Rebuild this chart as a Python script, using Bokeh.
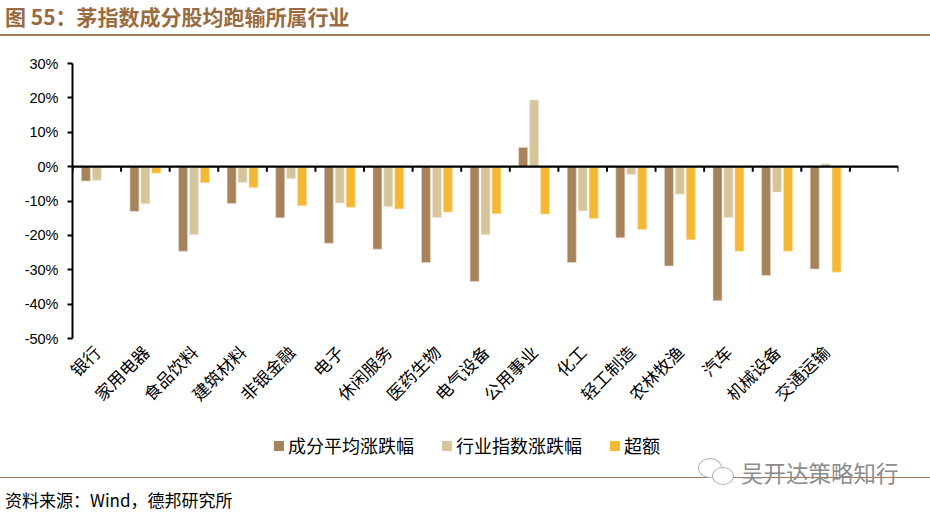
from math import pi

from bokeh.embed import file_html
from bokeh.layouts import column
from bokeh.models import (ColumnDataSource, Div, FactorRange, FixedTicker,
                          PrintfTickFormatter, Range1d, Span)
from bokeh.plotting import figure
from bokeh.resources import INLINE
from bokeh.transform import dodge

# ---- data (in %) ----
industries = ["银行", "家用电器", "食品饮料", "建筑材料", "非银金融", "电子", "休闲服务",
              "医药生物", "电气设备", "公用事业", "化工", "轻工制造", "农林牧渔", "汽车",
              "机械设备", "交通运输"]
avg_change = [-4.2, -13.0, -24.6, -10.7, -14.9, -22.3, -24.0, -27.9, -33.4, 5.6,
              -27.9, -20.7, -28.9, -39.0, -31.7, -29.8]
index_change = [-4.0, -10.8, -19.8, -4.6, -3.5, -10.6, -11.7, -14.8, -19.8, 19.4,
                -12.9, -2.3, -8.0, -14.8, -7.4, 0.8]
excess = [-0.2, -1.9, -4.7, -6.1, -11.4, -11.8, -12.3, -13.2, -13.7, -13.8,
          -15.1, -18.3, -21.3, -24.6, -24.6, -30.7]
series_names = ["成分平均涨跌幅", "行业指数涨跌幅", "超额"]
y_ticks = [-50, -40, -30, -20, -10, 0, 10, 20, 30]

BROWN = "#A6835A"
TAN = "#D6C59B"
YELLOW = "#F5B834"
LINE = "#A57A56"
CJK = "Noto Sans CJK SC"
colors = [BROWN, TAN, YELLOW]

factors = industries + [" "]   # empty slot at the right end

source = ColumnDataSource(dict(cat=industries, a=avg_change, b=index_change, c=excess))
edges = ColumnDataSource(dict(cat=factors))

# ---- main chart ----
p = figure(width=930, height=392, x_range=FactorRange(*factors),
           y_range=Range1d(-50, 30), output_backend="svg", toolbar_location=None,
           min_border_left=72, min_border_right=32, min_border_top=27,
           min_border_bottom=90)
p.outline_line_color = None
p.xgrid.visible = False
p.ygrid.visible = False

bw = 0.185
p.vbar(x=dodge("cat", -0.225, range=p.x_range), top="a", bottom=0, width=bw,
       source=source, fill_color=BROWN, line_color="#E8DCCB", line_width=0.6)
p.vbar(x=dodge("cat", 0.0, range=p.x_range), top="b", bottom=0, width=bw,
       source=source, fill_color=TAN, line_color="#F1EADB", line_width=0.6)
p.vbar(x=dodge("cat", 0.225, range=p.x_range), top="c", bottom=0, width=bw,
       source=source, fill_color=YELLOW, line_color="#FBE3B0", line_width=0.6)

# zero line with boundary ticks
p.add_layout(Span(location=0, dimension="width", line_color="black", line_width=2.2))
p.segment(x0=dodge("cat", -0.5, range=p.x_range), y0=0,
          x1=dodge("cat", -0.5, range=p.x_range), y1=-1.5,
          source=edges, line_color="black", line_width=2)
p.segment(x0=dodge("cat", 0.5, range=p.x_range), y0=0,
          x1=dodge("cat", 0.5, range=p.x_range), y1=-1.5,
          source=ColumnDataSource(dict(cat=[factors[-1]])), line_color="black", line_width=2)

# y axis
p.yaxis.ticker = FixedTicker(ticks=y_ticks)
p.yaxis.formatter = PrintfTickFormatter(format="%d%%")
p.yaxis.axis_line_width = 2
p.yaxis.major_tick_line_width = 2
p.yaxis.major_tick_in = 0
p.yaxis.major_tick_out = 5
p.yaxis.minor_tick_line_color = None
p.yaxis.major_label_standoff = 9
p.yaxis.major_label_text_font = "Liberation Sans"
p.yaxis.major_label_text_font_size = "14.5px"
p.yaxis.major_label_text_color = "black"

# x axis: labels only
p.xaxis.axis_line_color = None
p.xaxis.major_tick_line_color = None
p.xaxis.minor_tick_line_color = None
p.xaxis.major_label_orientation = pi / 4
p.xaxis.major_label_standoff = 4
p.xaxis.major_label_text_font = CJK
p.xaxis.major_label_text_font_size = "17px"
p.xaxis.major_label_text_color = "black"

# ---- legend strip (html, so the colour keys come out as real squares) ----
key_left = [274, 442, 610]
legend_html = '<div style="position:relative;width:930px;height:30px;">'
for name, c, left in zip(series_names, colors, key_left):
    legend_html += ('<div style="position:absolute;left:%dpx;top:13px;width:10px;height:10px;'
                    'background:%s;"></div>' % (left, c))
    legend_html += ('<div style="position:absolute;left:%dpx;top:4px;font-size:18px;'
                    'line-height:26px;color:black;white-space:nowrap;">%s</div>'
                    % (left + 14, name))
legend_html += '</div>'
legend = Div(text=legend_html, width=930, height=30, margin=0,
             styles={"font-family": CJK, "overflow": "visible"})

title = Div(text="图 55：茅指数成分股均跑输所属行业", width=930, height=36, margin=0,
            styles={"font-family": CJK, "font-size": "21px", "font-weight": "bold",
                    "color": "#9A6B40", "line-height": "33px", "box-sizing": "border-box",
                    "border-bottom": "2.5px solid " + LINE, "padding-left": "5px",
                    "overflow": "visible"})

footer_html = (
    '<div style="position:relative;width:930px;height:55px;">'
    '<div style="position:absolute;left:0;top:19px;width:930px;height:0;'
    'border-top:1.6px solid ' + LINE + ';"></div>'
    '<div style="position:absolute;left:698px;top:0px;width:24px;height:20px;'
    'border:1.5px solid #b5b5b5;border-radius:50%;background:white;"></div>'
    '<div style="position:absolute;left:712px;top:9px;width:22px;height:18px;'
    'border:1.5px solid #b5b5b5;border-radius:50%;background:white;"></div>'
    '<div style="position:absolute;left:741px;top:0px;font-size:22.5px;line-height:28px;'
    'color:#8c8c8c;white-space:nowrap;">吴开达策略知行</div>'
    '<div style="position:absolute;left:5px;top:31px;font-size:17px;line-height:22px;'
    'color:black;white-space:nowrap;">资料来源：Wind，德邦研究所</div>'
    '</div>'
)
footer = Div(text=footer_html, width=930, height=55, margin=0,
             styles={"font-family": CJK, "overflow": "visible"})

layout = column(title, p, legend, footer, spacing=0)
open("out.html", "w").write(file_html(layout, INLINE))
